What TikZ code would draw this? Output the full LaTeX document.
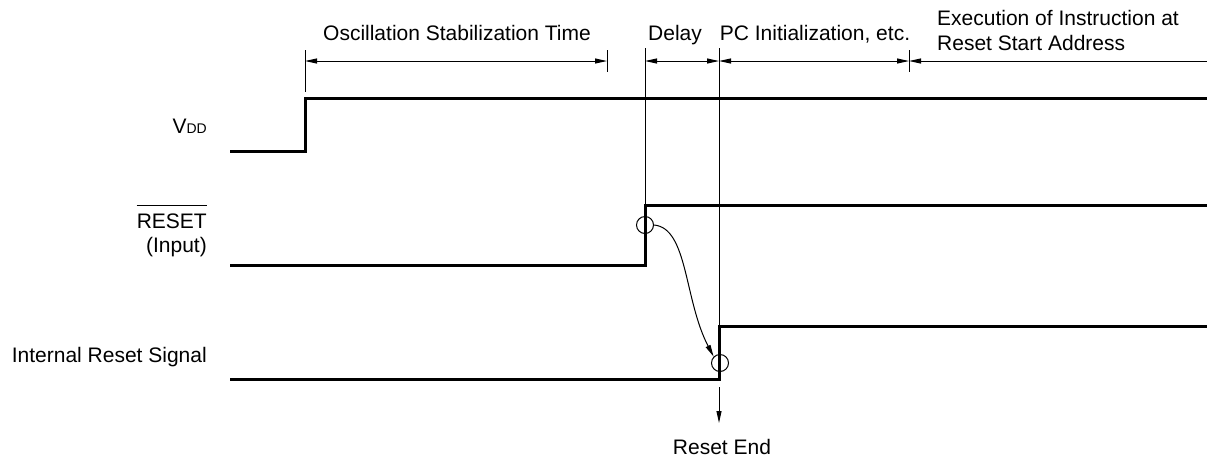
\documentclass[tikz,border=0pt]{standalone}
\usepackage{fontspec}
\setmainfont{Liberation Sans}
\usetikzlibrary{arrows.meta}
\begin{document}
\begin{tikzpicture}[x=1pt,y=-1pt,
  wave/.style={line width=3pt, line join=miter},
  hair/.style={line width=1pt},
  tip/.style={Triangle[length=12pt,width=5pt]},
  dim/.style={hair, {Triangle[length=12pt,width=5pt]}-{Triangle[length=12pt,width=5pt]}},
  lbl/.style={font=\fontsize{21}{25}\selectfont, inner sep=0pt},
  ring/.style={circle, draw, line width=1pt, minimum size=17pt, inner sep=0pt}]
\useasboundingbox (0,0) rectangle (1207,459);

% coordinates
\coordinate (v0) at (230,151); \coordinate (v1) at (305,151);
\coordinate (v2) at (305,98);  \coordinate (v3) at (1207,98);
\coordinate (r0) at (230,265); \coordinate (r1) at (645,265);
\coordinate (r2) at (645,205); \coordinate (r3) at (1207,205);
\coordinate (i0) at (230,379); \coordinate (i1) at (719,379);
\coordinate (i2) at (719,326); \coordinate (i3) at (1207,326);

\coordinate (t1a) at (305,50);  \coordinate (t1b) at (305,92);
\coordinate (t2a) at (607,50);  \coordinate (t2b) at (607,72);
\coordinate (t3a) at (645,48);
\coordinate (t4a) at (719,48);
\coordinate (t5a) at (909,50);  \coordinate (t5b) at (909,72);

\coordinate (d1) at (305,61); \coordinate (d2) at (607,61);
\coordinate (d3) at (645,61); \coordinate (d4) at (719,61);
\coordinate (d5) at (909,61); \coordinate (d6) at (1207,61);

\coordinate (e0) at (719,387); \coordinate (e1) at (719,423);

% waveforms
\draw[wave] (v0) -- (v1) -- (v2) -- (v3);
\draw[wave] (r0) -- (r1) -- (r2) -- (r3);
\draw[wave] (i0) -- (i1) -- (i2) -- (i3);

% ticks and guide lines
\draw[hair] (t1a) -- (t1b);
\draw[hair] (t2a) -- (t2b);
\draw[hair] (t3a) -- (r2);
\draw[hair] (t4a) -- (i2);
\draw[hair] (t5a) -- (t5b);

% dimension arrows
\draw[dim] (d1) -- (d2);
\draw[dim] (d3) -- (d4);
\draw[dim] (d4) -- (d5);
\draw[hair, {Triangle[length=12pt,width=5pt]}-] (d5) -- (d6);

% top labels
\node[lbl, anchor=base] (lo) at (457,40) {Oscillation Stabilization Time};
\node[lbl, anchor=base] (ld) at (675,40) {Delay};
\node[lbl, anchor=base] (lp) at (815,40) {PC Initialization, etc.};
\node[lbl, anchor=base west] (le1) at (937,25) {Execution of Instruction at};
\node[lbl, anchor=base west] (le2) at (937,50) {Reset Start Address};

% signal labels
\node[lbl, anchor=base east] (lv) at (207,133) {V{\fontsize{14}{14}\selectfont DD}};
\node[lbl, anchor=base east] (lr) at (207,228) {RESET};
\draw[hair] ([yshift=8pt]lr.north west) -- ([yshift=8pt]lr.north east);
\node[lbl, anchor=base east] (li) at (207,252) {(Input)};
\node[lbl, anchor=base east] (ls) at (207,362) {Internal Reset Signal};

% circles and curved arrow
\node[ring] (c1) at (645,225) {};
\node[ring] (c2) at (720,363) {};
\draw[hair, -{Triangle[length=12pt,width=5pt]}] (c1.east) .. controls (688,228) and (684,300) .. (c2.135);

% reset end
\draw[hair, -{Triangle[length=12pt,width=5pt]}] (e0) -- (e1);
\node[lbl, anchor=base] (lre) at (722,454) {Reset End};
\end{tikzpicture}
\end{document}
